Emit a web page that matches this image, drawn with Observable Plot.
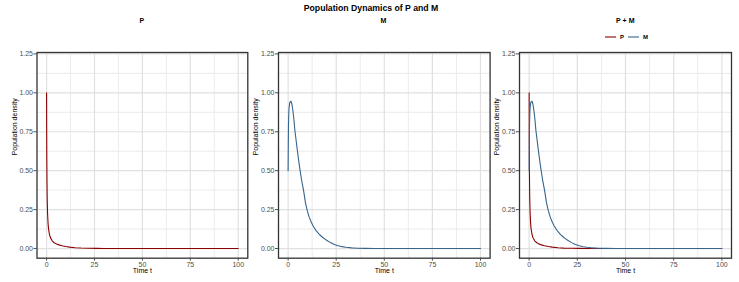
<!DOCTYPE html>
<html><head><meta charset="utf-8">
<script src="https://cdn.jsdelivr.net/npm/d3@7"></script>
<script src="https://cdn.jsdelivr.net/npm/@observablehq/plot@0.6"></script>
<style>
body{margin:0;background:#fff;font-family:"Liberation Sans",Arial,sans-serif;}
#root{position:relative;width:739px;height:282px;overflow:hidden;background:#fff;}
.panel{position:absolute;top:0;}
.t{position:absolute;white-space:nowrap;transform:translate(-50%,-50%);color:#000;line-height:1;}
.leg{position:absolute;top:37px;transform:translateY(-50%);display:flex;align-items:center;font-size:6px;font-weight:bold;color:#000;}
.key{display:inline-block;width:11px;height:1.3px;margin-right:4px;opacity:0.55;}
.lab{margin-right:4px;}
</style></head><body><div id="root"></div>
<script>
const pTime  = [0, 0.05, 0.1, 0.2, 0.3, 0.5, 0.75, 1, 1.5, 2, 3, 4, 5, 6, 8, 10, 12, 15, 18, 22, 26, 30, 40, 50, 75, 100];
const pValue = [1.0, 0.75, 0.6, 0.43, 0.33, 0.23, 0.165, 0.128, 0.09, 0.07, 0.048, 0.037, 0.03, 0.025, 0.018, 0.013, 0.009, 0.005, 0.003, 0.0015, 0.0008, 0.0004, 0.0001, 0, 0, 0];
const mTime  = [0, 0.1, 0.2, 0.35, 0.5, 0.75, 1, 1.5, 2, 2.5, 3, 3.5, 4, 5, 6, 7, 8, 9, 10, 11, 12, 13, 14, 15, 16, 17, 18, 19, 20, 22, 24, 26, 28, 30, 33, 36, 40, 45, 50, 75, 100];
const mValue = [0.5, 0.68, 0.8, 0.87, 0.905, 0.93, 0.942, 0.946, 0.925, 0.885, 0.83, 0.76, 0.71, 0.61, 0.52, 0.44, 0.375, 0.295, 0.24, 0.2, 0.17, 0.145, 0.125, 0.108, 0.094, 0.082, 0.071, 0.062, 0.053, 0.038, 0.026, 0.018, 0.012, 0.008, 0.004, 0.002, 0.001, 0.0005, 0, 0, 0];

const chartTitle = "Population Dynamics of P and M";
const panelTitles = ["P", "M", "P + M"];
const seriesNames = ["P", "M"];
const seriesColors = ["#8B0000", "#36648B"];
const xTicks = [0, 25, 50, 75, 100];
const yTicks = [0, 0.25, 0.5, 0.75, 1.0, 1.25];
const xMinor = [12.5, 37.5, 62.5, 87.5];
const yMinor = [0.125, 0.375, 0.625, 0.875, 1.125];
const xLabel = "Time t";
const yLabel = "Population density";

const seriesData = {
  P: pTime.map((t, i) => ({t, v: pValue[i], s: "P"})),
  M: mTime.map((t, i) => ({t, v: mValue[i], s: "M"}))
};
const colorOf = s => seriesColors[seriesNames.indexOf(s)];

const root = document.getElementById("root");
const layout = [
  {left: 0, ml: 36.5, pw: 210.8, series: ["P"]},
  {left: 240.7, ml: 37, pw: 211.6, series: ["M"]},
  {left: 482.3, ml: 37, pw: 212, series: ["P", "M"]}
];
const H = 282, mt = 52, mb = 24.3, mr = 3;

layout.forEach((L, k) => {
  const marks = [
    Plot.gridX(xMinor, {stroke: "#ebebeb", strokeOpacity: 1, strokeWidth: 1}),
    Plot.gridY(yMinor, {stroke: "#ebebeb", strokeOpacity: 1, strokeWidth: 1}),
    Plot.gridX(xTicks, {stroke: "#e0e0e0", strokeOpacity: 1, strokeWidth: 1.2}),
    Plot.gridY(yTicks, {stroke: "#e0e0e0", strokeOpacity: 1, strokeWidth: 1.2}),
    ...L.series.map(s => Plot.line(seriesData[s], {x: "t", y: "v", stroke: colorOf(s), strokeWidth: 1.1})),
    Plot.frame({stroke: "#333", strokeWidth: 1.3}),
    Plot.axisX(xTicks, {tickSize: 3, tickPadding: 0.5, fontSize: 7, label: null}),
    Plot.axisY(yTicks, {tickSize: 3, tickPadding: 1, fontSize: 7, label: null, tickFormat: d3.format(".2f")}),
    Plot.text([xLabel], {text: d => d, frameAnchor: "bottom", dy: 14.6, fontSize: 7, fill: "#000"}),
    Plot.text([yLabel], {text: d => d, frameAnchor: "left", dx: -22.5, rotate: -90, fontSize: 7, fill: "#000"})
  ];
  const chart = Plot.plot({
    width: L.ml + L.pw + mr,
    height: H,
    marginTop: mt,
    marginBottom: mb,
    marginLeft: L.ml,
    marginRight: mr,
    style: {fontFamily: "Liberation Sans, Arial, sans-serif", fontSize: "7px", color: "#4d4d4d", background: "transparent", overflow: "visible"},
    x: {domain: [-5, 105], label: null},
    y: {domain: [-0.062, 1.259], label: null},
    marks
  });
  const div = document.createElement("div");
  div.className = "panel";
  div.style.left = L.left + "px";
  div.appendChild(chart);
  root.appendChild(div);

  const pt = document.createElement("div");
  pt.className = "t";
  pt.style.left = (L.left + L.ml + L.pw / 2) + "px";
  pt.style.top = "20px";
  pt.style.fontSize = "7px";
  pt.style.fontWeight = "bold";
  pt.textContent = panelTitles[k];
  root.appendChild(pt);
});

const tt = document.createElement("div");
tt.className = "t";
tt.style.left = "371px";
tt.style.top = "8px";
tt.style.fontSize = "8.7px";
tt.style.fontWeight = "bold";
tt.textContent = chartTitle;
root.appendChild(tt);

const leg = document.createElement("div");
leg.className = "leg";
leg.style.left = "605px";
seriesNames.forEach((s, i) => {
  const key = document.createElement("span");
  key.className = "key";
  key.style.background = seriesColors[i];
  const lab = document.createElement("span");
  lab.className = "lab";
  lab.textContent = s;
  leg.appendChild(key);
  leg.appendChild(lab);
});
root.appendChild(leg);
</script></body></html>
